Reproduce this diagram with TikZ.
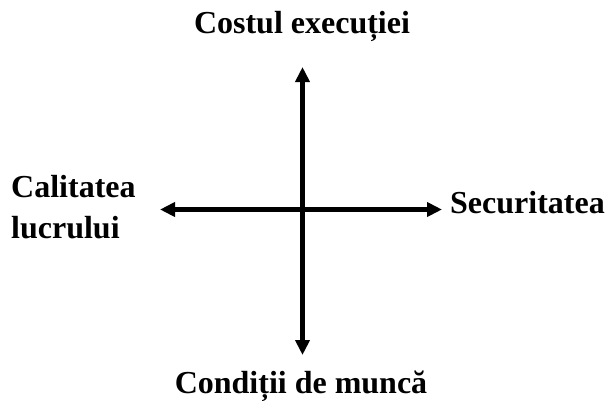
\documentclass[tikz,border=0pt]{standalone}
\usepackage{fontspec}
\setmainfont{Liberation Serif}
\usetikzlibrary{arrows.meta}
\begin{document}
\begin{tikzpicture}[x=1pt, y=-1pt, font=\fontsize{32}{38}\selectfont\bfseries, line join=round, >={Triangle[length=15pt,width=14pt]}]
\useasboundingbox (0,0) rectangle (607,400);
\coordinate (sus) at (302.5,67);
\coordinate (jos) at (302.5,355);
\coordinate (st) at (160,209.5);
\coordinate (dr) at (442,209.5);
\draw[line width=4.5pt, <->] (sus)--(jos);
\draw[line width=4.5pt, <->] (st)--(dr);
\node[anchor=base] (cost) at (302,33) {Costul execuției};
\node[anchor=base] (cond) at (301,393) {Condiții de muncă};
\node[anchor=base west, inner sep=0pt] (sec) at (450,213) {Securitatea};
\node[anchor=base west, inner sep=0pt, align=left] (cal) at (11,238) {Calitatea\\[3pt]lucrului};
\end{tikzpicture}
\end{document}
